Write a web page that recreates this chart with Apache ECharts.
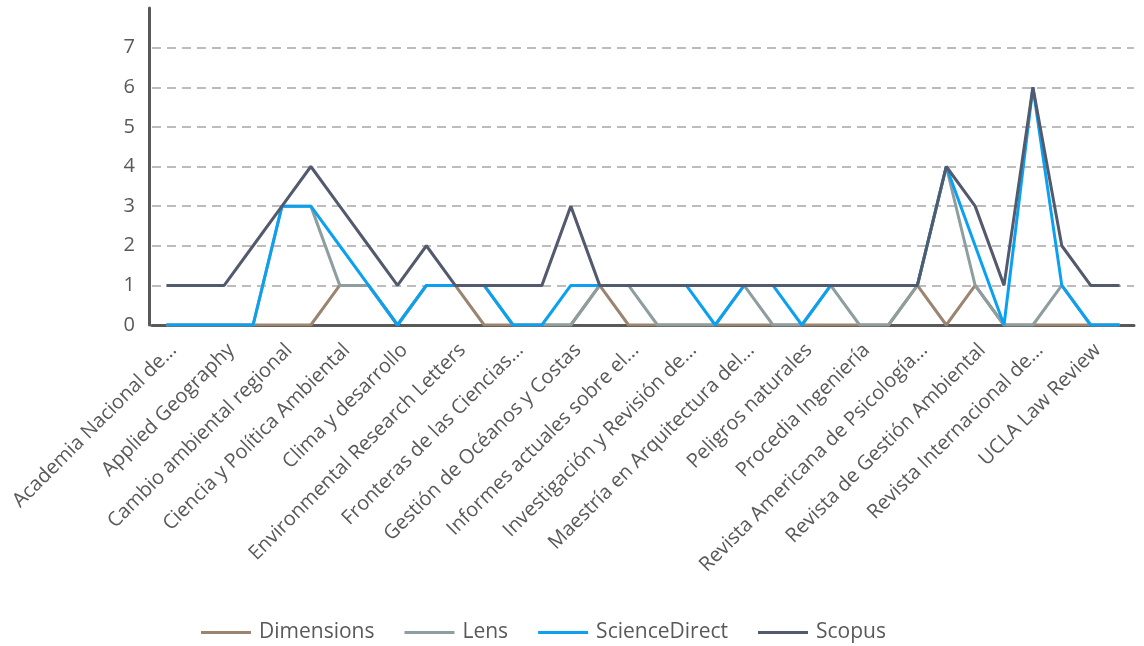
<!DOCTYPE html>
<html>
<head>
<meta charset="utf-8">
<script src="https://cdn.jsdelivr.net/npm/echarts@6/dist/echarts.min.js"></script>
<style>
html,body{margin:0;padding:0;background:#fff;}
#chart{width:1144px;height:646px;}
</style>
</head>
<body>
<div id="chart"></div>
<script>
const categories = [
  "Academia Nacional de...", "Ambio", "Applied Geography", "Atmósfera",
  "Cambio ambiental regional", "Cambio climático", "Ciencia y Política Ambiental", "Cities",
  "Clima y desarrollo", "Climatic Change", "Environmental Research Letters", "Environmental Science and Policy",
  "Fronteras de las Ciencias...", "Geoforum", "Gestión de Océanos y Costas", "Global Environmental Change",
  "Informes actuales sobre el...", "International Journal of...", "Investigación y Revisión de...", "Land Use Policy",
  "Maestría en Arquitectura del...", "Natural Hazards Review", "Peligros naturales", "Política Climática",
  "Procedia Ingeniería", "Progress in Planning", "Revista Americana de Psicología...", "Revista de Estudios Urbanos",
  "Revista de Gestión Ambiental", "Revista de Hidrología", "Revista Internacional de...", "Sostenibilidad",
  "UCLA Law Review", "Water Resources Research"
];
const dimensions    = [0,0,0,0,0,0,1,1,0,1,1,0,0,0,0,1,0,0,0,0,0,0,0,0,0,0,1,0,1,0,0,0,0,0];
const lens          = [0,0,0,0,3,3,1,1,0,1,1,1,0,0,0,1,1,0,0,0,1,0,0,1,0,0,1,4,1,0,0,1,0,0];
const scienceDirect = [0,0,0,0,3,3,2,1,0,1,1,1,0,0,1,1,1,1,1,0,1,1,0,1,1,1,1,4,2,0,6,1,0,0];
const scopus        = [1,1,1,2,3,4,3,2,1,2,1,1,1,1,3,1,1,1,1,1,1,1,1,1,1,1,1,4,3,1,6,2,1,1];
const yTicks = [0,1,2,3,4,5,6,7];

const seriesDefs = [
  {name:"Dimensions", data:dimensions, color:"#9B8571"},
  {name:"Lens", data:lens, color:"#8E9E9F"},
  {name:"ScienceDirect", data:scienceDirect, color:"#0AA1F2"},
  {name:"Scopus", data:scopus, color:"#535A6D"}
];

const font = "'Open Sans', sans-serif";
const chart = echarts.init(document.getElementById('chart'));
chart.setOption({
  animation:false,
  textStyle:{fontFamily:font},
  grid:{left:152, right:10, top:8, bottom:321, containLabel:false},
  legend:{
    top:617, left:196,
    icon:'rect', itemWidth:50, itemHeight:3, itemGap:30,
    textStyle:{fontSize:21, color:'#595959', fontFamily:font, padding:[0,0,0,3]},
    data: seriesDefs.map(s=>s.name)
  },
  xAxis:{
    type:'category', data:categories, boundaryGap:true,
    axisLine:{lineStyle:{color:'#595959', width:3}},
    axisTick:{show:false},
    axisLabel:{interval:1, rotate:45, fontSize:20, color:'#595959', margin:15,
      verticalAlign:'top', fontFamily:font}
  },
  yAxis:{
    type:'value', min:0, max:8, interval:1, offset:3,
    axisLine:{show:true, lineStyle:{color:'#595959', width:3}},
    axisTick:{show:false},
    axisLabel:{fontSize:20, color:'#595959', margin:14, fontFamily:font,
      formatter:v => yTicks.indexOf(v) >= 0 ? String(v) : ''},
    splitLine:{show:true, showMaxLine:false, showMinLine:false,
      lineStyle:{color:'#A6A6A6', width:1.5, type:[9,6]}}
  },
  series: seriesDefs.map(s=>({
    name:s.name, type:'line', data:s.data, showSymbol:false, symbol:'none',
    lineStyle:{color:s.color, width:3}, itemStyle:{color:s.color}
  }))
});
</script>
</body>
</html>
